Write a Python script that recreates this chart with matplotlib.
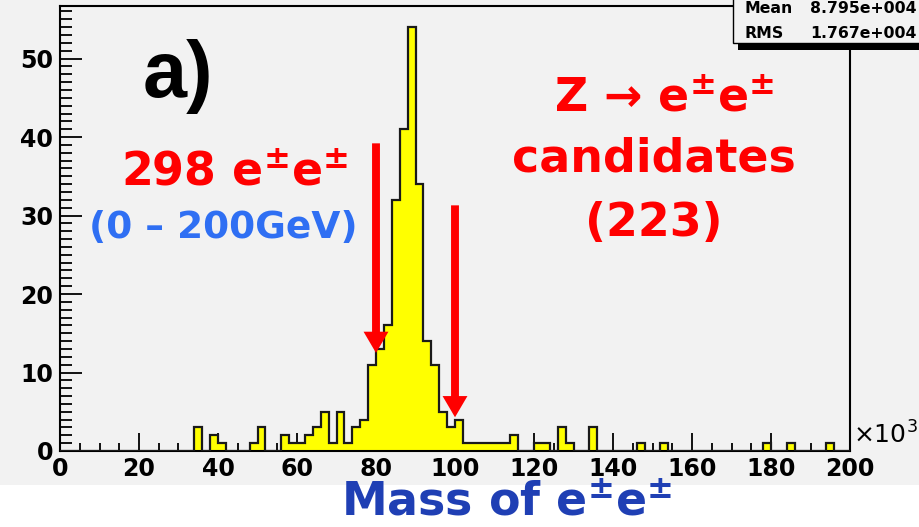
import numpy as np
import matplotlib
matplotlib.use('Agg')
import matplotlib.pyplot as plt
from matplotlib.patches import Rectangle

# e+e- invariant mass, 2 GeV bins from 0 to 200 (axis in units of 10^3 MeV)
bin_edges = np.arange(0, 202, 2)
counts = np.zeros(100, dtype=int)
filled_bins = {
    34: 3, 38: 2, 40: 1, 48: 1, 50: 3,
    56: 2, 58: 1, 60: 1, 62: 2, 64: 3, 66: 5, 68: 1, 70: 5, 72: 1, 74: 3, 76: 4,
    78: 11, 80: 13, 82: 16, 84: 32, 86: 41, 88: 54, 90: 34, 92: 14, 94: 11,
    96: 5, 98: 3, 100: 4,
    102: 1, 104: 1, 106: 1, 108: 1, 110: 1, 112: 1, 114: 2,
    120: 1, 122: 1, 126: 3, 128: 1, 134: 3,
    146: 1, 152: 1, 178: 1, 184: 1, 194: 1,
}
for lo, n in filled_bins.items():
    counts[lo // 2] = n

stat_labels = ['Mean', 'RMS']
stat_values = ['8.795e+004', '1.767e+004']

# mass window markers: x position, arrow top, arrow tip
window_x = [80, 100]
arrow_top = [39.2, 31.3]
arrow_tip = [12.5, 4.3]

BG = '#f2f2f2'
W, H = 920, 527


def fx(px):
    return px / W


def fy(py):
    return 1 - py / H


fig = plt.figure(figsize=(W / 100, H / 100), dpi=100, facecolor=BG)
plt.rcParams['font.family'] = ['DejaVu Sans']
plt.rcParams['mathtext.fontset'] = 'dejavusans'

# white strip under the canvas for the axis title
fig.patches.append(Rectangle((0, 0), 1, 1 - 485 / H, transform=fig.transFigure,
                             facecolor='white', edgecolor='none', zorder=0))

ax = fig.add_axes([fx(60), fy(451), fx(850) - fx(60), (451 - 6) / H])
ax.set_facecolor(BG)

ax.stairs(counts, bin_edges, fill=True, facecolor='#ffff00', edgecolor='none', zorder=2)
ax.stairs(counts, bin_edges, color='#1a1a1a', lw=1.6, zorder=3)

ax.set_xlim(0, 200)
ax.set_ylim(0, counts.max() * 1.05)

ax.set_xticks(np.arange(0, 201, 20))
ax.set_xticks(np.arange(0, 201, 5), minor=True)
ax.set_yticks(np.arange(0, 51, 10))
ax.set_yticks(np.arange(0, 57, 1), minor=True)
ax.tick_params(axis='x', which='major', direction='in', length=13, width=1.3,
               labelsize=17, pad=4)
ax.tick_params(axis='x', which='minor', direction='in', length=6, width=1.3)
ax.tick_params(axis='y', which='major', direction='in', length=16, width=1.3,
               labelsize=17, pad=5)
ax.tick_params(axis='y', which='minor', direction='in', length=8.5, width=1.3)
for lab in ax.get_xticklabels() + ax.get_yticklabels():
    lab.set_fontweight('bold')
for sp in ax.spines.values():
    sp.set_linewidth(1.5)
    sp.set_color('black')

ax.text(1.004, 0.005, r'$\times$10$^{3}$', transform=ax.transAxes, fontsize=18,
        ha='left', va='bottom')

for x, top, tip in zip(window_x, arrow_top, arrow_tip):
    ax.arrow(x, top, 0, tip - top, width=2.0, head_width=6.3, head_length=2.7,
             length_includes_head=True, color='#ff0000', lw=0, zorder=5)

# stats box in the top right corner, with its drop shadow
fig.patches.append(Rectangle((fx(738), fy(50)), 0.3, 0.2, transform=fig.transFigure,
                             facecolor='black', edgecolor='none', zorder=5))
fig.patches.append(Rectangle((fx(733), fy(43)), 0.3, 0.2, transform=fig.transFigure,
                             facecolor=BG, edgecolor='black', lw=1, zorder=6))
for i, (lab, val) in enumerate(zip(stat_labels, stat_values)):
    base = 13 + 25 * i
    fig.text(fx(745), fy(base), lab, fontsize=11.3, fontweight='bold',
             ha='left', va='baseline', zorder=7)
    fig.text(fx(917), fy(base), val, fontsize=11.3, fontweight='bold',
             ha='right', va='baseline', zorder=7)

fig.text(fx(143), fy(97), 'a)', fontsize=57, fontweight='bold', ha='left',
         va='baseline', family=['Liberation Sans', 'DejaVu Sans'])

red = '#ff0000'
pm = r'$^{\mathbf{\pm}}$'
fig.text(fx(235), fy(185), '298 e' + pm + 'e' + pm, color=red, fontsize=33,
         fontweight='bold', ha='center', va='baseline')
fig.text(fx(223), fy(238), '(0 \u2013 200GeV)', color='#2f6ff3', fontsize=27,
         fontweight='bold', ha='center', va='baseline')
fig.text(fx(664), fy(112), 'Z \u2192 e' + pm + 'e' + pm, color=red, fontsize=33,
         fontweight='bold', ha='center', va='baseline')
fig.text(fx(654), fy(172), 'candidates', color=red, fontsize=33,
         fontweight='bold', ha='center', va='baseline')
fig.text(fx(654), fy(236), '(223)', color=red, fontsize=33,
         fontweight='bold', ha='center', va='baseline')

fig.text(fx(507), fy(515), 'Mass of e' + pm + 'e' + pm, color='#1f3fb4',
         fontsize=33, fontweight='bold', ha='center', va='baseline', zorder=3)

fig.savefig('out.png', dpi=100, facecolor=BG)
